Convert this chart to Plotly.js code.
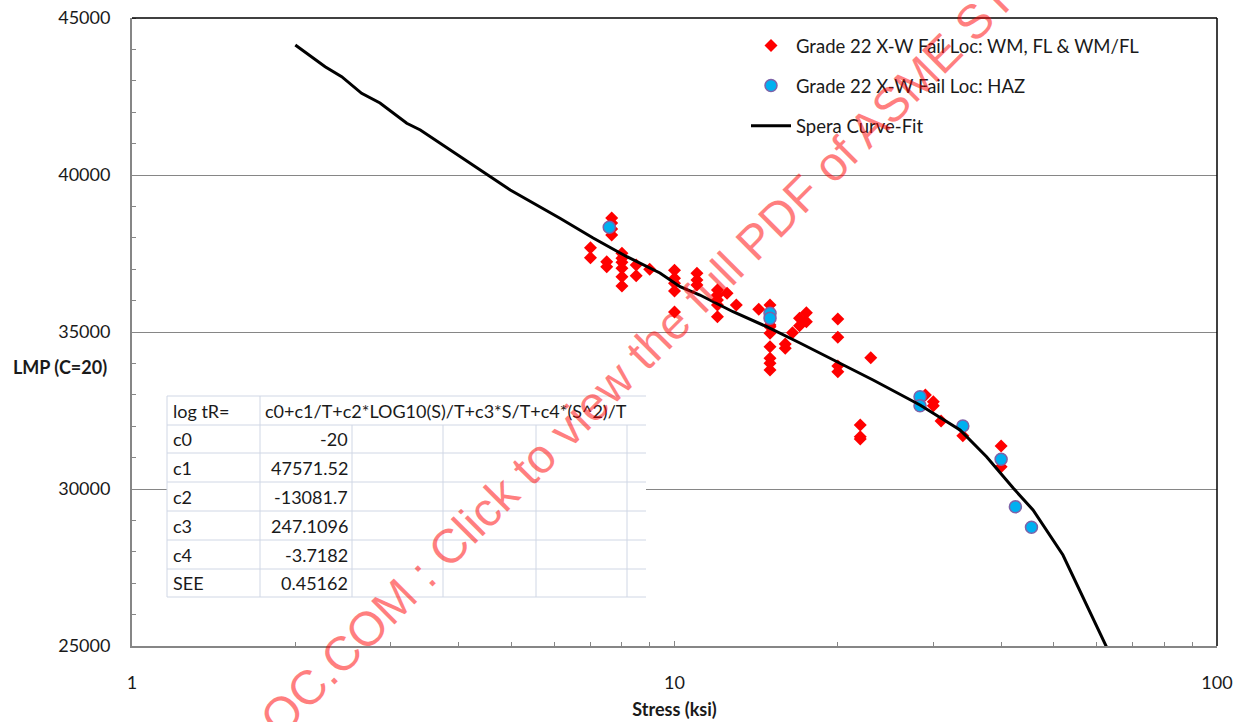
<!DOCTYPE html>
<html>
<head>
<meta charset="utf-8">
<script src="https://cdn.plot.ly/plotly-3.0.1.min.js"></script>
<style>
  html, body { margin: 0; padding: 0; background: #ffffff; }
  #chart { width: 1241px; height: 722px; }
</style>
</head>
<body>
<div id="chart"></div>
<script>
// ---------------- DATA ----------------
const seriesWMName = 'Grade 22 X-W Fail Loc: WM, FL & WM/FL';
const seriesHAZName = 'Grade 22 X-W Fail Loc: HAZ';
const seriesFitName = 'Spera Curve-Fit';

// Red diamonds: stress (ksi) and LMP
const wmStress = [7.66, 7.66, 7.66, 7.66,
  7.0, 7.0,
  7.5, 7.5,
  8.0, 8.0, 8.0, 8.0, 8.0, 8.0,
  8.5, 8.5,
  9.0,
  10.0, 10.0, 10.0, 10.0, 10.0,
  11.0, 11.0, 11.0,
  12.0, 12.0, 12.0, 12.0, 12.0,
  12.5, 13.0, 14.3,
  15.0, 15.0, 15.0, 15.0, 15.0, 15.0, 15.0, 15.0,
  16.0, 16.0, 16.5,
  17.0, 17.0, 17.5, 17.5,
  20.0, 20.0, 20.0, 20.0,
  22.0, 22.0, 22.0,
  23.0,
  29.0, 30.0, 30.0, 31.0, 34.0,
  40.0, 40.0];
const wmLMP = [38631, 38471, 38280, 38089,
  37685, 37366,
  37239, 37080,
  37507, 37347, 37220, 37029, 36761, 36465,
  37134, 36793,
  36997,
  36965, 36710, 36551, 36306, 35637,
  36870, 36656, 36497,
  36338, 36178, 36019, 35860, 35487,
  36233, 35860, 35723,
  35860, 35223, 35169, 34959, 34532, 34163, 34003, 33790,
  34618, 34481, 34978,
  35436, 35203, 35615, 35328,
  35414, 34831, 33917, 33736,
  32038, 31666, 31592,
  34182,
  32994, 32780, 32653, 32166, 31698,
  31370, 30710];

// Blue circles: stress (ksi) and LMP
const hazStress = [7.58, 15.0, 15.0, 28.35, 28.35, 34.0, 40.0, 42.5, 45.5];
const hazLMP = [38334, 35596, 35436, 32940, 32653, 32006, 30946, 29437, 28781];

// Spera curve-fit
const fitStress = [2.0, 2.27, 2.435, 2.65, 2.865, 3.21, 3.40, 3.86, 4.98, 6.15, 7.08, 8.17, 9.40,
  10.24, 11.14, 12.82, 14.79, 17.03, 19.60, 23.23, 28.35, 33.6, 37.6, 42.1, 45.8, 52.0, 62.7];
const fitLMP = [44140, 43449, 43130, 42602, 42293, 41647, 41433, 40796, 39522, 38621, 37994, 37398, 36879,
  36443, 36178, 35646, 35169, 34650, 34108, 33471, 32675, 31879, 31029, 30032, 29331, 27898, 24936];

// Axes
const xTickVals = [1, 10, 100];
const xTickText = ['1', '10', '100'];
const xMinorTickVals = [2, 3, 4, 5, 6, 7, 8, 9, 20, 30, 40, 50, 60, 70, 80, 90];
const yTickVals = [25000, 30000, 35000, 40000, 45000];
const yTickText = ['25000', '30000', '35000', '40000', '45000'];
const xTitle = 'Stress (ksi)';
const yTitle = 'LMP (C=20)';

// Coefficient table
const tableHeadLabel = 'log tR=';
const tableFormula = 'c0+c1/T+c2*LOG10(S)/T+c3*S/T+c4*(S^2)/T';
const tableLabels = ['c0', 'c1', 'c2', 'c3', 'c4', 'SEE'];
const tableValues = ['-20', '47571.52', '-13081.7', '247.1096', '-3.7182', '0.45162'];

// Watermark
const watermarkText = 'OC.COM : Click to view the full PDF of ASME ST';

// ---------------- LAYOUT HELPERS ----------------
const W = 1241, H = 722;
const PL = 132, PR = 1217, PT = 18, PB = 646;
const px = x => (x - PL) / (PR - PL);
const py = y => (PB - y) / (PB - PT);
const FONT = 'Lato, "Liberation Sans", sans-serif';
const TXT = '#1a1a1a';

const traces = [
  {
    x: wmStress, y: wmLMP, type: 'scatter', mode: 'markers', name: seriesWMName,
    legendgroup: 'a',
    marker: { symbol: 'diamond', size: 10, color: '#ff0000', line: { width: 0 } }
  },
  {
    x: hazStress, y: hazLMP, type: 'scatter', mode: 'markers', name: seriesHAZName,
    legendgroup: 'b',
    marker: { symbol: 'circle', size: 12, color: '#00b0f0', line: { color: '#7e62a8', width: 1.5 } }
  },
  {
    x: fitStress, y: fitLMP, type: 'scatter', mode: 'lines', name: seriesFitName,
    legendgroup: 'c',
    line: { color: '#000000', width: 3 }
  }
];

const shapes = [];
const annotations = [];

// plot borders (top and right are black)
shapes.push({ type: 'line', xref: 'paper', yref: 'paper', x0: 0, x1: 1, y0: 1, y1: 1, line: { color: '#000', width: 1.5 }, layer: 'above' });
shapes.push({ type: 'line', xref: 'paper', yref: 'paper', x0: 1, x1: 1, y0: 0, y1: 1, line: { color: '#000', width: 1.5 }, layer: 'above' });

// table
const tL = 167, tR = 646, tT = 396;
const rowEdges = [396, 425, 453, 482, 511, 540, 569, 597];
const colEdges = [167, 260, 352, 443, 536, 627];
const gridCol = '#d0d7e5';
shapes.push({ type: 'rect', xref: 'paper', yref: 'paper', x0: px(tL), x1: px(tR), y0: py(rowEdges[rowEdges.length - 1]), y1: py(tT),
  fillcolor: '#ffffff', line: { width: 0 }, layer: 'above' });
rowEdges.forEach(r => shapes.push({ type: 'line', xref: 'paper', yref: 'paper', x0: px(tL), x1: px(tR), y0: py(r), y1: py(r),
  line: { color: gridCol, width: 1 }, layer: 'above' }));
colEdges.forEach((c, i) => shapes.push({ type: 'line', xref: 'paper', yref: 'paper', x0: px(c), x1: px(c),
  y0: py(rowEdges[rowEdges.length - 1]), y1: py(i < 2 ? rowEdges[0] : rowEdges[1]),
  line: { color: gridCol, width: 1 }, layer: 'above' }));

const cellFont = { family: FONT, size: 18, color: TXT };
const rowMid = i => (rowEdges[i] + rowEdges[i + 1]) / 2;
annotations.push({ xref: 'paper', yref: 'paper', x: px(171), y: py(rowMid(0)), xanchor: 'left', yanchor: 'middle', text: tableHeadLabel, showarrow: false, font: cellFont });
annotations.push({ xref: 'paper', yref: 'paper', x: px(263), y: py(rowMid(0)), xanchor: 'left', yanchor: 'middle', text: tableFormula, showarrow: false, font: cellFont });
tableLabels.forEach((lab, i) => {
  annotations.push({ xref: 'paper', yref: 'paper', x: px(171), y: py(rowMid(i + 1)), xanchor: 'left', yanchor: 'middle', text: lab, showarrow: false, font: cellFont });
  annotations.push({ xref: 'paper', yref: 'paper', x: px(350), y: py(rowMid(i + 1)), xanchor: 'right', yanchor: 'middle', text: tableValues[i], showarrow: false, font: cellFont });
});

// y-axis title (horizontal)
annotations.push({ xref: 'paper', yref: 'paper', x: px(60), y: py(367), xanchor: 'center', yanchor: 'middle', text: '<b>' + yTitle + '</b>', showarrow: false,
  font: { family: FONT, size: 18, color: TXT } });

// watermark
annotations.push({ xref: 'paper', yref: 'paper', x: px(637), y: py(358), xanchor: 'center', yanchor: 'middle', text: watermarkText, showarrow: false,
  textangle: -45, font: { family: '"Liberation Sans", Arial, sans-serif', size: 48, color: 'rgba(255,0,0,0.5)' } });

const layout = {
  width: W, height: H,
  margin: { l: PL, r: W - PR, t: PT, b: H - PB, pad: 0 },
  paper_bgcolor: '#ffffff', plot_bgcolor: '#ffffff',
  font: { family: FONT, size: 18, color: TXT },
  showlegend: true,
  legend: {
    x: px(746), y: py(27), xanchor: 'left', yanchor: 'top',
    bgcolor: 'rgba(0,0,0,0)', borderwidth: 0, tracegroupgap: 13, itemwidth: 40,
    font: { family: FONT, size: 18.5, color: TXT }
  },
  xaxis: {
    type: 'log', range: [0, 2], tickmode: 'array', tickvals: xTickVals, ticktext: xTickText,
    showgrid: false, zeroline: false, showline: true, linecolor: '#868686', linewidth: 2,
    ticks: 'inside', ticklen: 5, tickcolor: '#868686', tickwidth: 1,
    ticklabelstandoff: 19,
    minor: { tickmode: 'array', tickvals: xMinorTickVals, ticks: 'inside', ticklen: 4, tickcolor: '#868686', tickwidth: 1, showgrid: false },
    tickfont: { family: FONT, size: 18, color: TXT },
    title: { text: '<b>' + xTitle + '</b>', font: { family: FONT, size: 18, color: TXT }, standoff: 12 },
    automargin: false, fixedrange: true
  },
  yaxis: {
    range: [25000, 45000], tickmode: 'array', tickvals: yTickVals, ticktext: yTickText,
    showgrid: true, gridcolor: '#868686', gridwidth: 1, zeroline: false,
    showline: true, linecolor: '#868686', linewidth: 2,
    ticks: '', ticklabelstandoff: 16,
    minor: { tick0: 25000, dtick: 1000, ticks: 'inside', ticklen: 4, tickcolor: '#868686', tickwidth: 1, showgrid: false },
    tickfont: { family: FONT, size: 18, color: TXT },
    automargin: false, fixedrange: true
  },
  shapes: shapes,
  annotations: annotations
};

Plotly.newPlot('chart', traces, layout, { displayModeBar: false, staticPlot: true });
</script>
</body>
</html>
